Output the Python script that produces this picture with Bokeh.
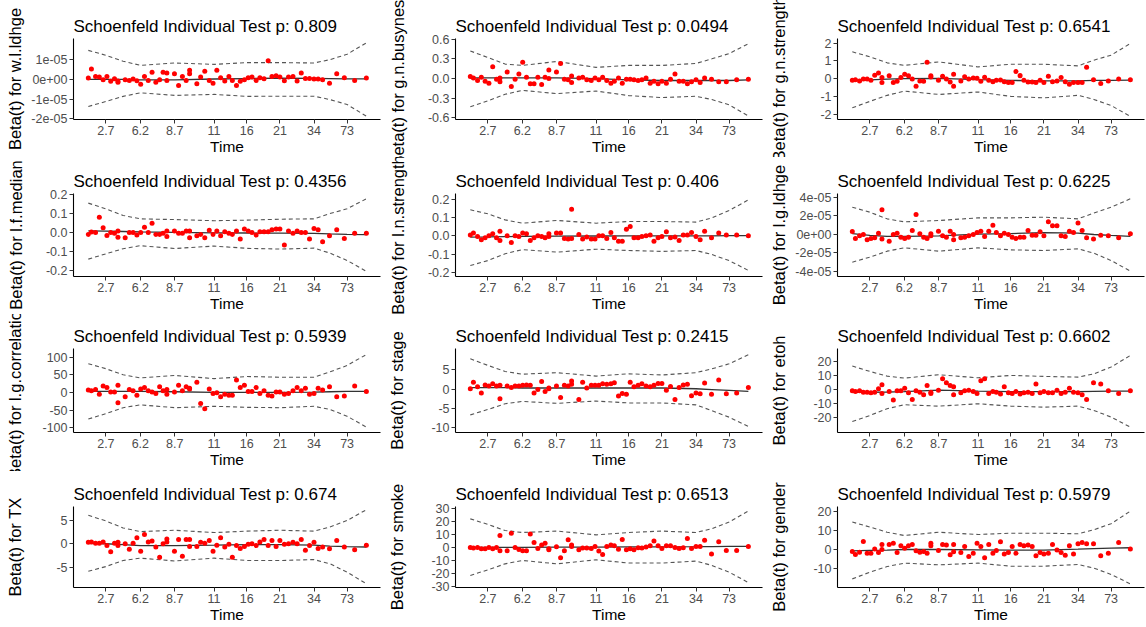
import math
from bokeh.plotting import figure
from bokeh.layouts import gridplot
from bokeh.models import Range1d, FixedTicker, CustomJSTickFormatter
from bokeh.embed import file_html
from bokeh.resources import INLINE

FONT = "Liberation Sans"

# transformed event-time positions (axis units: tick "2.7" = 1, "6.2" = 2, ...)
time_pos = [0.49, 0.58, 0.70, 0.81, 0.92, 1.03, 1.14, 1.25, 1.35, 1.35,
            1.56, 1.68, 1.79, 1.90, 2.01, 2.12, 2.23, 2.34, 2.45, 2.56,
            2.66, 2.77, 2.77, 2.99, 3.11, 3.22, 3.33, 3.43, 3.43, 3.64,
            3.75, 3.87, 4.00, 4.11, 4.22, 4.33, 4.45, 4.57, 4.67, 4.79,
            4.90, 5.02, 5.13, 5.24, 5.36, 5.47, 5.59, 5.71, 5.82, 5.94,
            6.05, 6.18, 6.30, 6.43, 6.55, 6.67, 6.79, 6.91, 7.04, 7.16,
            7.29, 7.49, 7.70, 7.92, 8.22, 8.56]
x_tick_pos = [1.0, 2.0, 3.0, 4.14, 5.09, 6.05, 7.04, 8.0]
x_tick_labels = ["2.7", "6.2", "8.7", "11", "16", "21", "34", "73"]
band_pos = [0.49, 1.0, 1.5, 2.0, 3.0, 4.14, 5.09, 6.05, 7.04, 7.5, 8.0, 8.56]

# ---- w.l.ldhge (values in units of 1e-05) ----
res_w_l_ldhge = [0.07, 0.53, 0.15, 0.12, -0.02, 0.15, -0.10, 0.03, -0.08, -0.15,
                 -0.02, -0.05, 0.02, -0.07, -0.25, 0.15, -0.05, 0.36, -0.14, -0.02,
                 0.36, 0.32, -0.05, 0.29, -0.31, 0.15, -0.05, 0.46, 0.29, -0.22,
                 0.12, 0.41, -0.05, -0.19, 0.46, 0.08, -0.08, 0.15, -0.05, -0.31,
                 -0.10, -0.02, 0.08, 0.12, -0.05, 0.08, 0.03, 0.95, 0.15, 0.19,
                 0.12, -0.07, 0.12, 0.15, -0.08, 0.32, 0.05, 0.05, 0.02, 0.02,
                 -0.02, -0.19, 0.29, 0.08, -0.05, 0.07]
up_w_l_ldhge = [1.47, 1.22, 0.92, 0.71, 0.83, 0.76, 0.85, 0.85, 0.83, 1.0, 1.27, 1.85]
lo_w_l_ldhge = [-1.37, -1.12, -0.86, -0.68, -0.81, -0.76, -0.86, -0.85, -0.85, -1.02, -1.27, -1.86]
fit_w_l_ldhge = [0.0, 0.0, 0.0, -0.02, -0.02, 0.02, 0.04, 0.06, 0.05, 0.04, 0.03, 0.03]

# ---- g.n.busyness ----
res_g_n_busyness = [0.03, 0.01, -0.03, 0.02, -0.04, -0.07, 0.18, -0.01, 0.01, -0.05,
                    0.10, -0.12, -0.01, 0.07, 0.25, 0.02, -0.08, -0.08, 0.02, -0.09,
                    0.02, 0.13, 0.0, 0.10, 0.23, -0.01, -0.02, 0.04, -0.06, 0.01,
                    0.02, -0.02, -0.03, 0.01, -0.02, 0.02, -0.03, -0.07, -0.04, 0.01,
                    -0.07, -0.01, -0.01, -0.02, -0.03, -0.02, 0.01, -0.07, -0.04, -0.08,
                    -0.04, -0.07, -0.01, 0.07, -0.04, -0.04, -0.08, -0.05, -0.02, -0.06,
                    0.01, -0.01, -0.05, -0.05, -0.02, -0.01]
up_g_n_busyness = [0.42, 0.32, 0.22, 0.20, 0.26, 0.17, 0.20, 0.20, 0.23, 0.30, 0.38, 0.53]
lo_g_n_busyness = [-0.43, -0.34, -0.24, -0.18, -0.23, -0.19, -0.26, -0.29, -0.27, -0.32, -0.40, -0.57]
fit_g_n_busyness = [0.01, 0.01, 0.01, 0.01, 0.01, 0.0, -0.02, -0.03, -0.03, -0.03, -0.03, -0.02]

# ---- g.n.strength ----
res_g_n_strength = [-0.09, -0.06, -0.13, -0.02, -0.02, -0.09, 0.19, 0.32, 0.06, -0.21,
                    0.17, -0.21, -0.15, 0.06, 0.25, 0.17, -0.02, -0.43, -0.13, -0.15,
                    0.92, 0.17, 0.09, -0.09, 0.13, -0.02, -0.19, 0.25, -0.43, -0.13,
                    0.11, -0.02, 0.04, 0.02, -0.15, 0.08, -0.09, -0.17, -0.09, -0.08,
                    -0.17, -0.21, -0.21, 0.40, 0.17, -0.09, -0.19, -0.19, -0.21, -0.09,
                    -0.21, 0.13, -0.17, -0.13, 0.06, -0.17, -0.32, -0.21, -0.21, -0.21,
                    0.64, -0.06, -0.28, -0.13, -0.02, -0.06]
up_g_n_strength = [1.51, 1.23, 0.89, 0.75, 0.94, 0.66, 0.81, 0.81, 0.72, 1.04, 1.32, 1.98]
lo_g_n_strength = [-1.64, -1.28, -0.94, -0.70, -0.89, -0.75, -1.0, -1.08, -0.94, -1.17, -1.51, -2.13]
fit_g_n_strength = [-0.1, -0.07, -0.03, 0.0, 0.02, -0.05, -0.1, -0.12, -0.12, -0.1, -0.1, -0.08]

# ---- l.f.median ----
res_l_f_median = [-0.011, 0.002, 0.0, 0.081, 0.025, -0.016, 0.0, -0.004, 0.007, -0.025,
                  -0.028, 0.0, 0.0, -0.014, 0.0, 0.028, 0.0, 0.049, -0.011, -0.011,
                  -0.004, -0.021, 0.007, 0.007, -0.004, -0.004, 0.007, 0.007, -0.028, -0.018,
                  -0.011, -0.028, 0.011, -0.011, 0.007, -0.018, 0.004, -0.004, -0.011, 0.007,
                  -0.035, 0.018, 0.007, 0.0, -0.014, 0.004, 0.004, 0.004, 0.014, 0.018,
                  0.018, -0.067, 0.007, -0.004, 0.007, 0.0, 0.0, -0.035, 0.021, 0.014,
                  -0.049, -0.018, 0.014, -0.032, -0.004, -0.004]
up_l_f_median = [0.155, 0.125, 0.09, 0.072, 0.068, 0.062, 0.065, 0.07, 0.072, 0.1, 0.125, 0.178]
lo_l_f_median = [-0.141, -0.113, -0.086, -0.07, -0.085, -0.072, -0.084, -0.088, -0.083, -0.109, -0.148, -0.206]
fit_l_f_median = [0.008, 0.007, 0.005, 0.003, 0.0, -0.002, -0.003, -0.004, -0.005, -0.008, -0.01, -0.011]

# ---- l.n.strength ----
res_l_n_strength = [0.004, 0.015, -0.004, -0.022, -0.011, 0.0, 0.011, -0.011, 0.025, -0.025,
                    0.0, -0.036, 0.0, -0.004, 0.015, 0.011, -0.025, -0.011, 0.0, -0.004,
                    -0.011, 0.011, -0.004, 0.015, 0.015, -0.015, -0.018, 0.145, -0.015, 0.007,
                    -0.018, -0.007, -0.018, -0.018, 0.0, 0.0, -0.015, 0.018, -0.011, -0.029,
                    -0.029, 0.036, 0.051, -0.011, -0.011, -0.004, 0.0, 0.004, -0.029, -0.011,
                    -0.004, 0.022, -0.011, -0.007, -0.025, 0.004, 0.004, 0.018, -0.004, -0.022,
                    0.025, -0.011, 0.015, 0.004, 0.004, 0.0]
up_l_n_strength = [0.142, 0.12, 0.087, 0.069, 0.084, 0.069, 0.078, 0.078, 0.075, 0.098, 0.138, 0.196]
lo_l_n_strength = [-0.162, -0.135, -0.098, -0.075, -0.089, -0.073, -0.08, -0.085, -0.08, -0.102, -0.135, -0.189]
fit_l_n_strength = [-0.007, -0.006, -0.004, -0.003, -0.002, -0.001, 0.0, 0.0, 0.0, 0.0, 0.001, 0.001]

# ---- l.g.ldhge (values in units of 1e-05) ----
res_l_g_ldhge = [0.32, -0.43, -0.14, 0.0, -0.58, -0.43, -0.36, 0.14, 2.67, -0.5,
                 -0.72, 0.0, 0.14, -0.29, -0.43, -0.29, 0.43, 2.16, 0.07, -0.29,
                 -0.43, -0.14, 0.07, 0.36, -0.14, -0.29, 0.36, 0.0, -0.58, -0.36,
                 -0.29, -0.14, 0.0, 0.22, 0.36, -0.22, 0.36, 1.01, 0.22, -0.14,
                 0.14, 0.0, -0.29, -0.43, -0.29, -0.29, 0.43, -0.07, -0.07, 0.29,
                 -0.14, 1.37, 0.94, 0.94, -0.14, -0.22, 0.36, 0.22, 1.23, 0.43,
                 -0.36, -0.5, -0.07, -0.14, -0.36, 0.07]
up_l_g_ldhge = [2.95, 2.41, 1.69, 1.37, 1.51, 1.8, 1.8, 1.87, 1.69, 2.31, 2.95, 3.86]
lo_l_g_ldhge = [-2.99, -2.45, -1.8, -1.44, -1.8, -1.44, -1.66, -1.73, -1.55, -2.02, -2.81, -3.96]
fit_l_g_ldhge = [0.1, -0.1, -0.2, -0.2, -0.15, 0.05, 0.1, 0.2, 0.15, 0.0, -0.1, -0.2]

# ---- l.g.correlation ----
res_l_g_correlation = [7, 5, 8, -5, 18, 14, 1, 1, 20, -29,
                       -12, 8, 5, -8, 10, 14, 5, 1, -3, 16,
                       5, 8, -5, 1, 20, 5, 16, 12, 10, 29,
                       -31, -46, 10, -3, -1, -12, -5, -8, -8, 35,
                       14, 20, 3, 3, 14, -3, 5, -8, -10, 1,
                       1, -5, -3, 5, 14, 5, 12, -5, -3, 12,
                       7, 16, -12, -10, 18, 3]
up_l_g_correlation = [81, 67, 50, 41, 48, 39, 45, 43, 43, 58, 76, 107]
lo_l_g_correlation = [-75, -60, -43, -35, -43, -39, -42, -43, -39, -48, -67, -98]
fit_l_g_correlation = [3, 3, 3, 3, 2, 0, 0, 0, 1, 2, 3, 3]

# ---- stage ----
res_stage = [0.1, 1.8, 0.6, -1.0, 1.1, 0.8, 1.4, 0.8, 1.0, -2.5,
             0.8, 0.4, 0.8, 0.8, 1.0, 1.1, 1.0, -1.0, -0.1, 2.0,
             -0.6, 0.3, 0.1, 0.8, -2.2, 1.0, 0.8, 2.1, 1.3, -2.7,
             1.8, 0.3, 1.0, 1.0, 1.0, 1.4, 1.3, 1.4, 1.7, -1.8,
             -1.1, -1.3, 1.8, 0.6, 1.0, 1.4, 0.8, 0.6, 1.0, 1.5,
             1.5, -0.3, 0.7, -2.7, 0.4, 1.1, 1.3, -1.7, -1.0, -1.2,
             1.6, -1.3, 2.4, -1.2, -1.0, 0.4]
up_stage = [7.9, 6.2, 4.6, 3.9, 4.3, 3.4, 4.0, 3.7, 4.3, 5.3, 6.6, 9.0]
lo_stage = [-6.7, -5.3, -3.8, -3.2, -3.7, -3.1, -3.6, -3.6, -4.1, -5.6, -7.3, -9.7]
fit_stage = [0.4, 0.4, 0.4, 0.3, 0.3, 0.3, 0.3, 0.3, 0.1, -0.1, -0.3, -0.6]

# ---- etoh ----
res_etoh = [-0.9, -1.4, -0.9, -1.9, -1.9, -2.4, -1.9, 0.5, 3.3, -2.8,
            -1.4, -7.5, -0.9, -0.9, 0.9, -2.4, -7.1, -0.9, -1.9, -3.8,
            2.8, -1.9, -2.8, -0.5, 7.5, 4.7, 2.8, 1.9, -3.8, -2.4,
            -0.9, -0.5, -1.4, -2.8, 6.1, 7.5, -2.8, -1.4, -1.9, -3.3,
            1.9, -2.4, -2.8, -1.4, -3.3, -2.4, -1.9, -2.8, 3.8, -2.4,
            -1.4, -2.4, -2.4, -0.5, -2.8, -1.9, 0.9, -1.9, -2.4, -3.8,
            -7.1, 4.7, 3.8, -0.9, -2.8, -0.9]
up_etoh = [16.5, 12.7, 9.4, 8.0, 10.4, 8.2, 9.9, 9.2, 8.7, 11.0, 15.8, 24.0]
lo_etoh = [-22.6, -18.4, -13.6, -10.8, -11.8, -10.1, -11.8, -12.5, -11.8, -14.8, -19.5, -26.6]
fit_etoh = [-2.0, -2.0, -1.8, -1.5, -0.5, -1.2, -1.5, -1.6, -1.5, -1.3, -1.2, -1.2]

# ---- TX ----
res_TX = [0.3, 0.4, 0.1, 0.1, 0.4, -0.4, -1.7, 0.1, 0.3, -0.4,
          0.0, -1.2, 0.1, 1.3, -1.6, 2.0, 0.4, 0.6, -0.7, -2.9,
          0.0, 1.0, 0.4, -1.6, 0.9, -2.7, 0.9, 0.9, -0.6, -0.6,
          0.3, 0.1, 0.7, -1.6, -0.3, 1.3, -0.7, -0.1, -2.9, -0.4,
          -1.0, -0.6, -0.1, 0.0, -0.4, 0.4, 0.9, -0.4, 0.7, -0.6,
          0.7, -0.1, 0.0, 0.3, 0.0, 0.9, -1.4, -0.4, 0.3, -1.0,
          -0.7, -1.1, 0.7, -0.7, -1.3, -0.3]
up_TX = [6.1, 4.9, 3.4, 2.6, 2.9, 2.4, 2.7, 2.9, 2.7, 3.6, 5.0, 7.3]
lo_TX = [-5.9, -4.9, -3.6, -3.1, -3.7, -3.1, -3.6, -3.6, -3.4, -4.3, -6.1, -8.6]
fit_TX = [0.1, 0.0, -0.2, -0.4, -0.4, -0.3, -0.2, -0.2, -0.3, -0.5, -0.6, -0.7]

# ---- smoke ----
res_smoke = [0, -0.5, 0, -1, -1, 0, -1, 0, 9.2, -2.6,
             -2.6, 11, 0, -1.5, -2.6, -2.6, 10.3, 3.8, -0.8, 1.8,
             3.3, -1.8, -1, 0.5, -8, -2.6, 5.9, 1.8, 0.8, -1.8,
             -0.5, -0.5, -0.8, 0.8, -2.8, -5.4, 0.8, 1.8, 1.3, -1.3,
             6.2, -1.8, -1, -1.8, -0.3, -0.5, 0.3, 1.3, 4.9, 1.3,
             -0.8, 1.3, 1.3, 0, -0.8, -0.3, 6.9, -0.8, 0.8, 0.8,
             5.6, -5.1, 4.4, -2.3, -2.3, 0.8]
up_smoke = [22.0, 17.7, 13.0, 11.5, 12.6, 9.7, 11.5, 12.6, 11.5, 14.4, 19.5, 28.0]
lo_smoke = [-21.5, -17.2, -12.6, -10.0, -12.6, -9.5, -12.0, -12.0, -10.5, -13.8, -19.0, -27.0]
fit_smoke = [0, 0, 0, 0, 0.2, 0.3, 0.4, 0.5, 0.6, 0.7, 0.8, 0.8]

# ---- gender ----
res_gender = [-1.0, -2.6, -1.4, 4.2, -1.9, -1.9, 0.2, -1.6, 2.6, 0.0,
              2.6, 3.3, -1.6, 1.9, 0.7, 1.9, 2.6, -0.7, -1.4, -1.0,
              -1.9, 3.3, 1.9, -0.5, 2.6, 2.3, -2.8, 2.6, -1.2, -1.6,
              1.6, -3.7, -1.9, 3.3, 1.6, -4.3, 2.6, -1.9, -0.5, 4.0,
              -2.3, -1.6, 1.6, -1.9, 2.6, 1.9, 2.3, 1.6, -3.3, -1.6,
              -2.3, -1.9, 2.6, -0.2, -1.6, -3.0, 1.9, -2.3, 3.0, 3.7,
              3.0, 3.0, -3.3, -1.9, 3.7, 0.2]
up_gender = [14.3, 11.7, 9.0, 7.3, 9.0, 7.8, 8.5, 8.5, 8.2, 10.3, 13.4, 20.0]
lo_gender = [-15.3, -11.8, -8.9, -7.1, -8.0, -7.1, -8.7, -8.7, -7.8, -9.7, -13.0, -17.9]
fit_gender = [-0.7, -0.5, -0.3, 0.0, 0.0, -0.2, -0.3, -0.3, 0.2, 0.5, 0.7, 0.9]

E5 = 1e-05  # unit of the two "ldhge" panels

panels = [
    dict(var="w.l.ldhge", p="0.809", unit=E5, res=res_w_l_ldhge, up=up_w_l_ldhge, lo=lo_w_l_ldhge, fit=fit_w_l_ldhge,
         yr=(-2.03, 2.07), yt=[-2, -1, 0, 1], yl=["-2e-05", "-1e-05", "0e+00", "1e-05"]),
    dict(var="g.n.busyness", p="0.0494", unit=1, res=res_g_n_busyness, up=up_g_n_busyness, lo=lo_g_n_busyness, fit=fit_g_n_busyness,
         yr=(-0.624, 0.61), yt=[-0.6, -0.3, 0, 0.3, 0.6], yl=["-0.6", "-0.3", "0.0", "0.3", "0.6"]),
    dict(var="g.n.strength", p="0.6541", unit=1, res=res_g_n_strength, up=up_g_n_strength, lo=lo_g_n_strength, fit=fit_g_n_strength,
         yr=(-2.30, 2.26), yt=[-2, -1, 0, 1, 2], yl=["-2", "-1", "0", "1", "2"]),
    dict(var="l.f.median", p="0.4356", unit=1, res=res_l_f_median, up=up_l_f_median, lo=lo_l_f_median, fit=fit_l_f_median,
         yr=(-0.233, 0.206), yt=[-0.2, -0.1, 0, 0.1, 0.2], yl=["-0.2", "-0.1", "0.0", "0.1", "0.2"]),
    dict(var="l.n.strength", p="0.406", unit=1, res=res_l_n_strength, up=up_l_n_strength, lo=lo_l_n_strength, fit=fit_l_n_strength,
         yr=(-0.222, 0.231), yt=[-0.2, -0.1, 0, 0.1, 0.2], yl=["-0.2", "-0.1", "0.0", "0.1", "0.2"]),
    dict(var="l.g.ldhge", p="0.6225", unit=E5, res=res_l_g_ldhge, up=up_l_g_ldhge, lo=lo_l_g_ldhge, fit=fit_l_g_ldhge,
         yr=(-4.54, 4.43), yt=[-4, -2, 0, 2, 4], yl=["-4e-05", "-2e-05", "0e+00", "2e-05", "4e-05"]),
    dict(var="l.g.correlation", p="0.5939", unit=1, res=res_l_g_correlation, up=up_l_g_correlation, lo=lo_l_g_correlation, fit=fit_l_g_correlation,
         yr=(-113, 124), yt=[-100, -50, 0, 50, 100], yl=["-100", "-50", "0", "50", "100"]),
    dict(var="stage", p="0.2415", unit=1, res=res_stage, up=up_stage, lo=lo_stage, fit=fit_stage,
         yr=(-11.3, 10.6), yt=[-10, -5, 0, 5], yl=["-10", "-5", "0", "5"]),
    dict(var="etoh", p="0.6602", unit=1, res=res_etoh, up=up_etoh, lo=lo_etoh, fit=fit_etoh,
         yr=(-30.4, 28.9), yt=[-20, -10, 0, 10, 20], yl=["-20", "-10", "0", "10", "20"]),
    dict(var="TX", p="0.674", unit=1, res=res_TX, up=up_TX, lo=lo_TX, fit=fit_TX,
         yr=(-9.4, 8.0), yt=[-5, 0, 5], yl=["-5", "0", "5"]),
    dict(var="smoke", p="0.6513", unit=1, res=res_smoke, up=up_smoke, lo=lo_smoke, fit=fit_smoke,
         yr=(-30.8, 31.5), yt=[-30, -20, -10, 0, 10, 20, 30], yl=["-30", "-20", "-10", "0", "10", "20", "30"]),
    dict(var="gender", p="0.5979", unit=1, res=res_gender, up=up_gender, lo=lo_gender, fit=fit_gender,
         yr=(-19.8, 22.4), yt=[-10, 0, 10, 20], yl=["-10", "0", "10", "20"]),
]

ROW_H = [157, 157, 157, 156]
ROW_TOP = [38, 36, 34, 35]
ROW_FRAME = [81, 83, 84, 81]
TICK_FS = 12.5

# approximate glyph advance widths (em) of Liberation Sans, used to keep every y-axis title at one x
ADV = {"-": 0.333, ".": 0.278, "e": 0.556, "+": 0.584}

LABEL_CODE = """
for (let i = 0; i < vals.length; i++) {
    if (Math.abs(tick - vals[i]) <= 1e-9 * Math.max(1e-5, Math.abs(vals[i]))) { return labs[i]; }
}
return "";
"""


def text_w(s, fs):
    return sum(ADV.get(ch, 0.556) for ch in s) * fs


def make_panel(spec, row):
    u = spec["unit"]
    y0, y1 = spec["yr"]
    h = ROW_H[row]
    top = ROW_TOP[row]
    bottom = h - top - ROW_FRAME[row]
    p = figure(width=382, height=h, output_backend="svg", toolbar_location=None,
               x_range=Range1d(0.06, 8.97), y_range=Range1d(y0 * u, y1 * u),
               min_border_left=73, min_border_right=2, min_border_top=top, min_border_bottom=bottom,
               background_fill_color="white", border_fill_color="white")
    p.outline_line_color = None
    p.xgrid.visible = False
    p.ygrid.visible = False

    p.title.text = "Schoenfeld Individual Test p: " + spec["p"]
    p.title.text_font = FONT
    p.title.text_font_size = "17px"
    p.title.text_font_style = "normal"
    p.title.text_color = "black"
    p.title.align = "left"
    p.title.standoff = 5

    ys_up = [v * u for v in spec["up"]]
    ys_lo = [v * u for v in spec["lo"]]
    ys_fit = [v * u for v in spec["fit"]]
    ys_res = [v * u for v in spec["res"]]

    p.line(band_pos, ys_up, line_color="#555555", line_width=1.1, line_dash="4 3")
    p.line(band_pos, ys_lo, line_color="#555555", line_width=1.1, line_dash="4 3")
    p.line(band_pos, ys_fit, line_color="#333333", line_width=1.3)
    p.scatter(time_pos, ys_res, size=5, fill_color="#FF0000", line_color=None)

    xa = p.xaxis[0]
    ya = p.yaxis[0]
    xa.ticker = FixedTicker(ticks=x_tick_pos)
    xa.formatter = CustomJSTickFormatter(args=dict(vals=x_tick_pos, labs=x_tick_labels), code=LABEL_CODE)
    yvals = [v * u for v in spec["yt"]]
    ya.ticker = FixedTicker(ticks=yvals)
    ya.formatter = CustomJSTickFormatter(args=dict(vals=yvals, labs=spec["yl"]), code=LABEL_CODE)
    for ax in (xa, ya):
        ax.axis_line_color = "black"
        ax.axis_line_width = 1.1
        ax.major_tick_line_color = "#333333"
        ax.major_tick_out = 4
        ax.major_tick_in = 0
        ax.minor_tick_line_color = None
        ax.major_label_text_font = FONT
        ax.major_label_text_font_size = f"{TICK_FS}px"
        ax.major_label_text_color = "#4D4D4D"
        ax.major_label_standoff = 2
        ax.axis_label_text_font = FONT
        ax.axis_label_text_font_style = "normal"
        ax.axis_label_text_color = "black"
    xa.axis_label = "Time"
    xa.axis_label_standoff = 0
    xa.axis_label_text_font_size = "15.5px"

    ya.axis_label = "Beta(t) for " + spec["var"]
    ya.axis_label_text_font_size = "16.5px"
    widest = max(text_w(s, TICK_FS) for s in spec["yl"])
    ya.axis_label_standoff = int(round(max(0.0, 40 - widest)))
    return p


rows = []
for r in range(4):
    rows.append([make_panel(panels[r * 3 + c], r) for c in range(3)])

grid = gridplot(rows, toolbar_location=None)
open("out.html", "w").write(file_html(grid, INLINE))
